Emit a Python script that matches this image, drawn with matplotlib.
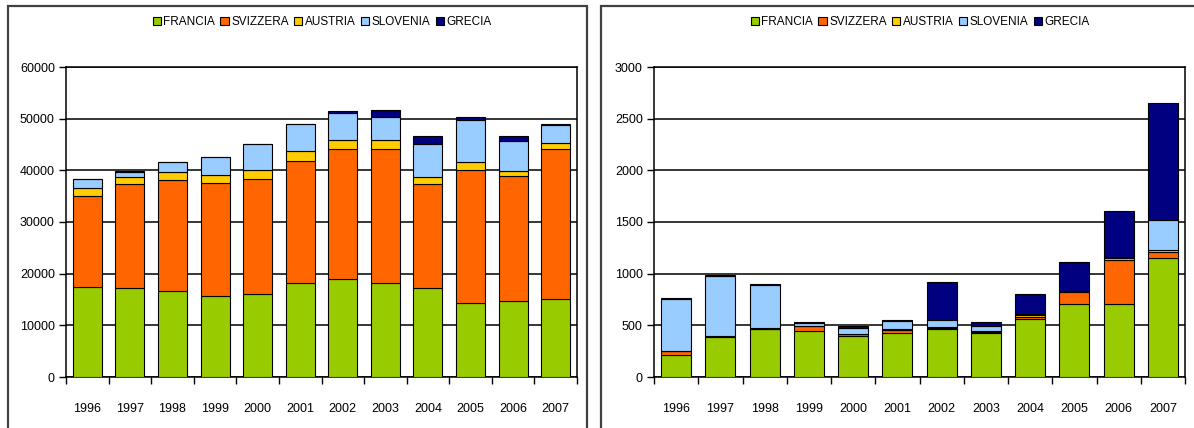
import matplotlib.pyplot as plt
import numpy as np
from matplotlib.patches import Rectangle

anni = ['1996', '1997', '1998', '1999', '2000', '2001',
        '2002', '2003', '2004', '2005', '2006', '2007']
paesi = ['FRANCIA', 'SVIZZERA', 'AUSTRIA', 'SLOVENIA', 'GRECIA']
colori = ['#99CC00', '#FF6600', '#FFCC00', '#99CCFF', '#000080']

# grafico di sinistra
francia_a = [17500, 17200, 16600, 15700, 16000, 18100, 19000, 18100, 17200, 14400, 14750, 15100]
svizzera_a = [17550, 20100, 21600, 21900, 22300, 23800, 25100, 25950, 20100, 25700, 24100, 29000]
austria_a = [1500, 1400, 1500, 1500, 1750, 1800, 1750, 1900, 1500, 1550, 1100, 1250]
slovenia_a = [1750, 1000, 1900, 3400, 5000, 5300, 5300, 4300, 6300, 8000, 5700, 3350]
grecia_a = [50, 100, 50, 50, 50, 50, 400, 1350, 1600, 700, 1050, 300]

# grafico di destra
francia_b = [215, 385, 465, 445, 400, 430, 460, 430, 565, 705, 705, 1155]
svizzera_b = [35, 10, 3, 45, 15, 25, 10, 10, 20, 120, 430, 57]
austria_b = [5, 5, 2, 5, 5, 8, 10, 10, 15, 3, 15, 15]
slovenia_b = [500, 575, 425, 30, 55, 80, 70, 45, 5, 3, 10, 290]
grecia_b = [5, 15, 3, 5, 15, 5, 370, 35, 200, 280, 450, 1130]

plt.rcParams['font.family'] = ['Liberation Sans', 'DejaVu Sans']

W, H = 1194, 428
fig = plt.figure(figsize=(W / 100, H / 100), dpi=100)

# cornici dei due riquadri
for x0, x1 in [(8, 587), (601, 1196)]:
    fig.patches.append(Rectangle((x0 / W, -0.1), (x1 - x0) / W, (H - 6) / H + 0.1,
                                 transform=fig.transFigure, fill=False,
                                 edgecolor='#404040', linewidth=1.6))


def grafico(rect, serie, ymax, passo, legx):
    ax = fig.add_axes(rect)
    x = np.arange(len(anni))
    base = np.zeros(len(anni))
    for nome, val, col in zip(paesi, serie, colori):
        ax.bar(x, val, 0.68, bottom=base, color=col, edgecolor='black',
               linewidth=0.8, label=nome, zorder=3)
        base = base + np.array(val)
    ax.set_xlim(-0.5, len(anni) - 0.5)
    ax.set_ylim(0, ymax)
    ax.set_yticks(np.arange(0, ymax + 1, passo))
    ax.yaxis.grid(True, color='black', linewidth=1.1, zorder=0)
    ax.set_xticks(x)
    ax.set_xticklabels(anni)
    ax.set_xticks(np.arange(-0.5, len(anni), 1), minor=True)
    ax.tick_params(axis='x', which='major', length=0, pad=19, labelsize=9)
    ax.tick_params(axis='x', which='minor', length=5, width=1, direction='out')
    ax.tick_params(axis='y', length=5, width=1, direction='out', labelsize=9, pad=3)
    for s in ax.spines.values():
        s.set_linewidth(1.1)
    leg = fig.legend(*ax.get_legend_handles_labels(), loc='center',
                     bbox_to_anchor=(legx / W, 1 - 22 / H), ncol=5, frameon=False,
                     fontsize=8.5, handlelength=0.7, handleheight=0.7,
                     handletextpad=0.2, columnspacing=0.45, borderpad=0)
    for h in leg.legend_handles:
        h.set_edgecolor('black')
        h.set_linewidth(0.8)
    return ax


bottom = (H - 377) / H
height = 310 / H
grafico([66 / W, bottom, (577 - 66) / W, height],
        [francia_a, svizzera_a, austria_a, slovenia_a, grecia_a], 60000, 10000, 322)
grafico([654 / W, bottom, (1185 - 654) / W, height],
        [francia_b, svizzera_b, austria_b, slovenia_b, grecia_b], 3000, 500, 920)

fig.savefig('out.png', dpi=100)
